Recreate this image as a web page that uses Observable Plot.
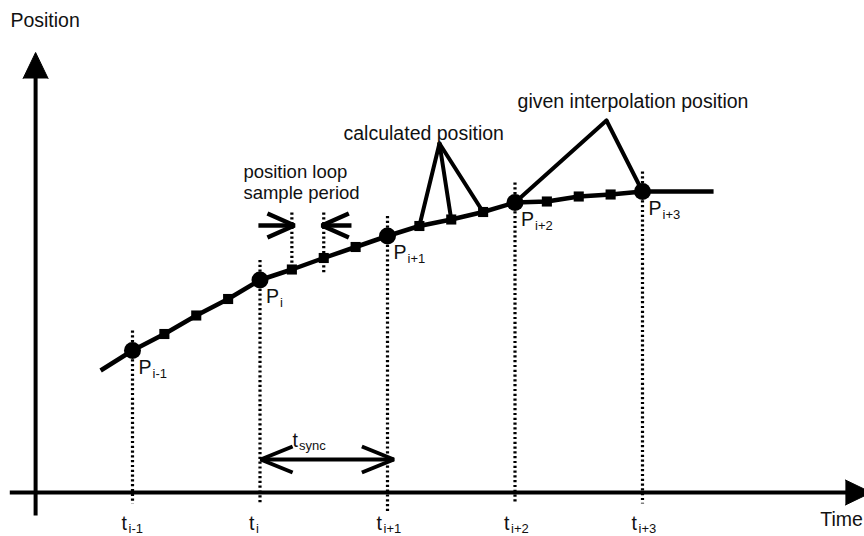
<!DOCTYPE html>
<html>
<head>
<meta charset="utf-8">
<script src="https://cdn.jsdelivr.net/npm/d3@7"></script>
<script src="https://cdn.jsdelivr.net/npm/@observablehq/plot@0.6"></script>
<style>
  html, body { margin: 0; padding: 0; background: #fff; }
  #chart svg { display: block; }
</style>
</head>
<body>
<div id="chart"></div>
<script>
// ---- data (time in position-loop sample periods, position in arbitrary units) ----
// given interpolation positions P(i-1) … P(i+3) at t(i-1) … t(i+3)
const keyTimes = [4, 8, 12, 16, 20];
const keyPositions = [14.2, 21.25, 25.65, 29.0, 30.1];
const keySubscripts = ["i-1", "i", "i+1", "i+2", "i+3"];
const keyGuideBottoms = [-1.1, -1.1, -1.9, -1.1, -1.1];

// calculated positions, one per position-loop sample period
const sampleTimes = [5, 6, 7, 9, 10, 11, 13, 14, 15, 17, 18, 19];
const samplePositions = [15.85, 17.7, 19.35, 22.3, 23.45, 24.55, 26.65, 27.3, 28.05, 29.1, 29.6, 29.8];

// curve lead-in and tail
const leadIn = {t: 3.0, p: 12.2};
const tail = {t: 22.23, p: 30.1};

// sample-period guides (t = 9, 10)
const periodGuideTimes = [9, 10];
const periodGuideRange = [28.0, 22.0];

// callouts
const calcApex = {t: 13.63, p: 34.9};
const calcTargets = [13, 14, 15];
const givenApex = {t: 18.87, p: 37.2};
const givenTargets = [16, 20];

// texts
const labels = [
  {text: "Position", t: 0.17, p: 46.6},
  {text: "calculated position", t: 10.62, p: 35.3},
  {text: "given interpolation position", t: 16.08, p: 38.5},
  {text: "Time", t: 25.58, p: -3.3}
];
const periodLabel = {text: "position loop\nsample period", t: 7.48, p: 29.35};
const tickLabelPos = -3.75;
const tsync = {t: 9.02, p: 4.6, text: "t", sub: "sync"};

// ---- geometry ----
const W = 864, H = 536;
const xDomain = [-0.1412, 26.965];
const yDomain = [-4.4, 49.2];
const pxX = W / (xDomain[1] - xDomain[0]);
const pxY = H / (yDomain[1] - yDomain[0]);

const keys = keyTimes.map((t, i) => ({t, p: keyPositions[i], sub: keySubscripts[i], bottom: keyGuideBottoms[i]}));
const samples = sampleTimes.map((t, i) => ({t, p: samplePositions[i]}));
const curve = [leadIn, ...[...keys, ...samples].sort((a, b) => a.t - b.t), tail];
const byTime = new Map([...keys, ...samples].map(d => [d.t, d]));

// arrow head (open chevron or filled triangle): tip, unit direction in screen space (uy up)
function head(id, tip, ux, uy, lenPx, halfPx) {
  const bt = tip.t - ux * lenPx / pxX, bp = tip.p - uy * lenPx / pxY;
  const nx = -uy, ny = ux;
  return [
    {id, t: bt + nx * halfPx / pxX, p: bp + ny * halfPx / pxY},
    {id, t: tip.t, p: tip.p},
    {id, t: bt - nx * halfPx / pxX, p: bp - ny * halfPx / pxY}
  ];
}

// axes
const yAxis = {t: 0.96, bottom: -2.3, tip: 44.0};
const xAxis = {left: 0.15, tip: 27.18};
const axisHeadLen = 26, axisHeadHalf = 12.5;
const axisShafts = [
  {t1: yAxis.t, p1: yAxis.bottom, t2: yAxis.t, p2: yAxis.tip - axisHeadLen / pxY + 0.1},
  {t1: xAxis.left, p1: 0, t2: xAxis.tip - axisHeadLen / pxX + 0.05, p2: 0}
];
const axisHeads = [
  ...head("y", {t: yAxis.t, p: yAxis.tip}, 0, 1, axisHeadLen, axisHeadHalf),
  ...head("x", {t: xAxis.tip, p: 0}, 1, 0, axisHeadLen, axisHeadHalf)
];

// sample-period arrows  ">" and "<"
const spY = 26.7;
const spArrows = [{t1: 7.95, t2: 9.08}, {t1: 10.87, t2: 9.94}];
const spHeads = [
  ...head("a", {t: 9.08, p: spY}, 1, 0, 27, 12),
  ...head("b", {t: 9.94, p: spY}, -1, 0, 27, 12)
];

// t_sync double arrow
const tsY = 3.3;
const tsSpan = [8.02, 12.2];
const tsHeads = [
  ...head("l", {t: tsSpan[0], p: tsY}, -1, 0, 32, 13),
  ...head("r", {t: tsSpan[1], p: tsY}, 1, 0, 32, 13)
];

const calcLinks = calcTargets.map(t => ({t1: calcApex.t, p1: calcApex.p, t2: t, p2: byTime.get(t).p}));
const givenLinks = givenTargets.map(t => ({t1: givenApex.t, p1: givenApex.p, t2: t, p2: byTime.get(t).p}));

const FONT = "Liberation Sans, Arial, Helvetica, sans-serif";
const INK = "#111";
const DOTS = {stroke: "black", strokeWidth: 3.2, strokeDasharray: "2.2,2.6"};

const chart = Plot.plot({
  width: W,
  height: H,
  marginTop: 0, marginRight: 0, marginBottom: 0, marginLeft: 0,
  x: {domain: xDomain, range: [0, W], axis: null},
  y: {domain: yDomain, range: [H, 0], axis: null},
  style: {fontFamily: FONT, background: "#fff", overflow: "visible"},
  marks: [
    // dotted guides at interpolation instants
    Plot.link(keys, {x1: "t", x2: "t", y1: d => d.p + 2.0, y2: "bottom", ...DOTS}),
    // dotted guides for the sample period
    Plot.link(periodGuideTimes, {x1: d => d, x2: d => d, y1: () => periodGuideRange[0], y2: () => periodGuideRange[1], ...DOTS}),
    // axes
    Plot.link(axisShafts, {x1: "t1", y1: "p1", x2: "t2", y2: "p2", stroke: "black", strokeWidth: 4}),
    Plot.line(axisHeads, {x: "t", y: "p", z: "id", fill: "black", stroke: "black", strokeWidth: 1, strokeLinejoin: "miter"}),
    // callouts
    Plot.link([...calcLinks, ...givenLinks], {x1: "t1", y1: "p1", x2: "t2", y2: "p2",
      stroke: "black", strokeWidth: 4, strokeLinecap: "round"}),
    // position curve
    Plot.line(curve, {x: "t", y: "p", stroke: "black", strokeWidth: 4.5, strokeLinejoin: "round", strokeLinecap: "butt"}),
    // calculated positions
    Plot.dot(samples, {x: "t", y: "p", symbol: "square", r: 5.7, fill: "black"}),
    // given interpolation positions
    Plot.dot(keys, {x: "t", y: "p", r: 8.5, fill: "black"}),
    // sample period arrows
    Plot.link(spArrows, {x1: "t1", x2: "t2", y1: () => spY, y2: () => spY, stroke: "black", strokeWidth: 4.5}),
    Plot.line(spHeads, {x: "t", y: "p", z: "id", stroke: "black", strokeWidth: 4.5, strokeLinejoin: "miter", strokeLinecap: "butt"}),
    // t_sync arrow
    Plot.link([tsSpan], {x1: d => d[0], x2: d => d[1], y1: () => tsY, y2: () => tsY, stroke: "black", strokeWidth: 4}),
    Plot.line(tsHeads, {x: "t", y: "p", z: "id", stroke: "black", strokeWidth: 4, strokeLinejoin: "miter", strokeLinecap: "butt"}),
    // text labels
    Plot.text(labels, {x: "t", y: "p", text: "text", textAnchor: "start", lineAnchor: "bottom",
      fontSize: 19.5, fill: INK}),
    Plot.text([periodLabel], {x: "t", y: "p", text: "text", textAnchor: "start", lineAnchor: "bottom",
      lineHeight: 1.13, fontSize: 18.5, fill: INK}),
    // P labels
    Plot.text(keys, {x: "t", y: "p", text: () => "P", textAnchor: "start", lineAnchor: "bottom",
      dx: 6, dy: 23, fontSize: 19.5, fill: INK}),
    Plot.text(keys, {x: "t", y: "p", text: "sub", textAnchor: "start", lineAnchor: "bottom",
      dx: 20, dy: 27, fontSize: 13, fill: INK}),
    // t tick labels
    Plot.text(keys, {x: "t", y: () => tickLabelPos, text: () => "t", textAnchor: "start", lineAnchor: "bottom",
      dx: -11, fontSize: 19.5, fill: INK}),
    Plot.text(keys, {x: "t", y: () => tickLabelPos, text: "sub", textAnchor: "start", lineAnchor: "bottom",
      dx: -4, dy: 3, fontSize: 13, fill: INK}),
    // t_sync label
    Plot.text([tsync], {x: "t", y: "p", text: "text", textAnchor: "start", lineAnchor: "bottom",
      fontSize: 19.5, fill: INK}),
    Plot.text([tsync], {x: "t", y: "p", text: "sub", textAnchor: "start", lineAnchor: "bottom",
      dx: 6.5, dy: 3, fontSize: 13, fill: INK})
  ]
});
document.getElementById("chart").appendChild(chart);
</script>
</body>
</html>
